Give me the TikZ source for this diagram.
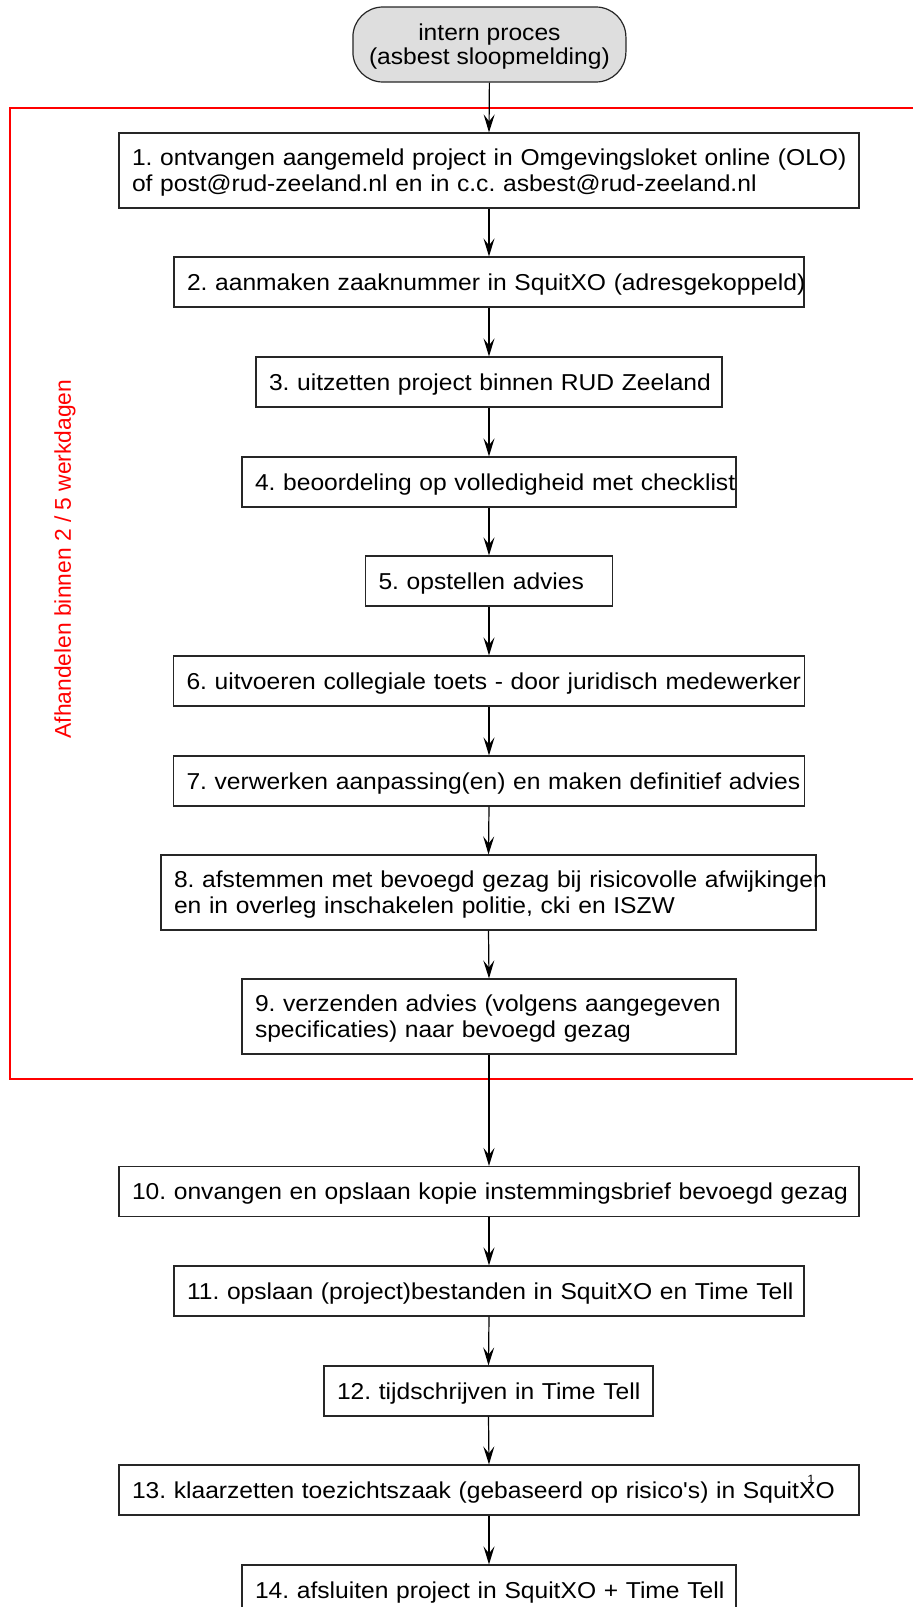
\documentclass[tikz,border=0pt]{standalone}
\usepackage{fontspec}
\setmainfont{Liberation Sans}
\newfontfamily\boxfont{Liberation Sans}[FakeStretch=1.07]
\newfontfamily\rotfont{Liberation Sans}
\usetikzlibrary{arrows.meta}
\frenchspacing
\newcommand\bl[1]{\rule{0pt}{20pt}\rule[-3.5pt]{0pt}{3.5pt}\smash{#1}}
\begin{document}
\begin{tikzpicture}[x=1pt,y=-1pt,
  stepbox/.style={draw=black!85, line width=1.2pt, inner xsep=13pt, inner ysep=0pt,
    minimum height=50pt, align=left, font=\boxfont\fontsize{23}{26}\selectfont\frenchspacing, text width=#1},
  twoline/.style={minimum height=75pt},
  startbox/.style={draw=black!85, fill=black!13, line width=1.2pt, rounded corners=30pt,
    inner sep=0pt, minimum width=273pt, minimum height=75pt, align=center,
    font=\boxfont\fontsize{23}{24}\selectfont},
  arr/.style={draw=black, line width=1.2pt, -{Stealth[length=18pt,width=11pt,inset=7pt]}},
  frame/.style={draw=red, line width=1.5pt},
  framelabel/.style={text=red, rotate=90, inner sep=0pt, font=\rotfont\fontsize{22.8}{26}\selectfont}
]
\useasboundingbox (0,0) rectangle (913,1607);
\clip (0,0) rectangle (913,1607);

% red frame (its right side lies beyond the picture)
\draw[frame] (935,108) -- (10,108) -- (10,1079) -- (935,1079);
\node[framelabel] (lab) at (65,559) {Afhandelen binnen 2 / 5 werkdagen};

\node[startbox] (start) at (489.4,44.5) {\bl{intern proces}\\\bl{(asbest sloopmelding)}};

\node[stepbox=714pt, twoline] (b1) at (489,170.5) {\bl{1. ontvangen aangemeld project in Omgevingsloket online (OLO)}\\\bl{of post@rud-zeeland.nl en in c.c. asbest@rud-zeeland.nl}};
\node[stepbox=604pt] (b2) at (489,282) {\bl{2. aanmaken zaaknummer in SquitXO (adresgekoppeld)}};
\node[stepbox=440pt] (b3) at (489,382) {\bl{3. uitzetten project binnen RUD Zeeland}};
\node[stepbox=468pt] (b4) at (489,482) {\bl{4. beoordeling op volledigheid met checklist}};
\node[stepbox=221pt] (b5) at (489,581) {\bl{5. opstellen advies}};
\node[stepbox=605pt] (b6) at (489,681) {\bl{6. uitvoeren collegiale toets - door juridisch medewerker}};
\node[stepbox=605pt] (b7) at (489,781) {\bl{7. verwerken aanpassing(en) en maken definitief advies}};
\node[stepbox=629pt, twoline] (b8) at (488.5,892.5) {\bl{8. afstemmen met bevoegd gezag bij risicovolle afwijkingen}\\\bl{en in overleg inschakelen politie, cki en ISZW}};
\node[stepbox=468pt, twoline] (b9) at (489,1016.5) {\bl{9. verzenden advies (volgens aangegeven}\\\bl{specificaties) naar bevoegd gezag}};
\node[stepbox=714pt] (b10) at (489,1191.5) {\bl{10. onvangen en opslaan kopie instemmingsbrief bevoegd gezag}};
\node[stepbox=604pt] (b11) at (489,1291) {\bl{11. opslaan (project)bestanden in SquitXO en Time Tell}};
\node[stepbox=303pt] (b12) at (488.5,1391) {\bl{12. tijdschrijven in Time Tell}};
\node[stepbox=714pt] (b13) at (489,1490) {\bl{13. klaarzetten toezichtszaak (gebaseerd op risico's) in SquitX\llap{\raisebox{15pt}{\fontsize{12}{12}\selectfont 1}\kern1pt}O}};
\node[stepbox=468pt] (b14) at (489,1590) {\bl{14. afsluiten project in SquitXO + Time Tell}};

\draw[arr] (start.south) -- (b1.north);
\draw[arr] (b1.south) -- (b2.north);
\draw[arr] (b2.south) -- (b3.north);
\draw[arr] (b3.south) -- (b4.north);
\draw[arr] (b4.south) -- (b5.north);
\draw[arr] (b5.south) -- (b6.north);
\draw[arr] (b6.south) -- (b7.north);
\draw[arr] (b7.south) -- (b8.north);
\draw[arr] (b8.south) -- (b9.north);
\draw[arr] (b9.south) -- (b10.north);
\draw[arr] (b10.south) -- (b11.north);
\draw[arr] (b11.south) -- (b12.north);
\draw[arr] (b12.south) -- (b13.north);
\draw[arr] (b13.south) -- (b14.north);
\end{tikzpicture}
\end{document}
